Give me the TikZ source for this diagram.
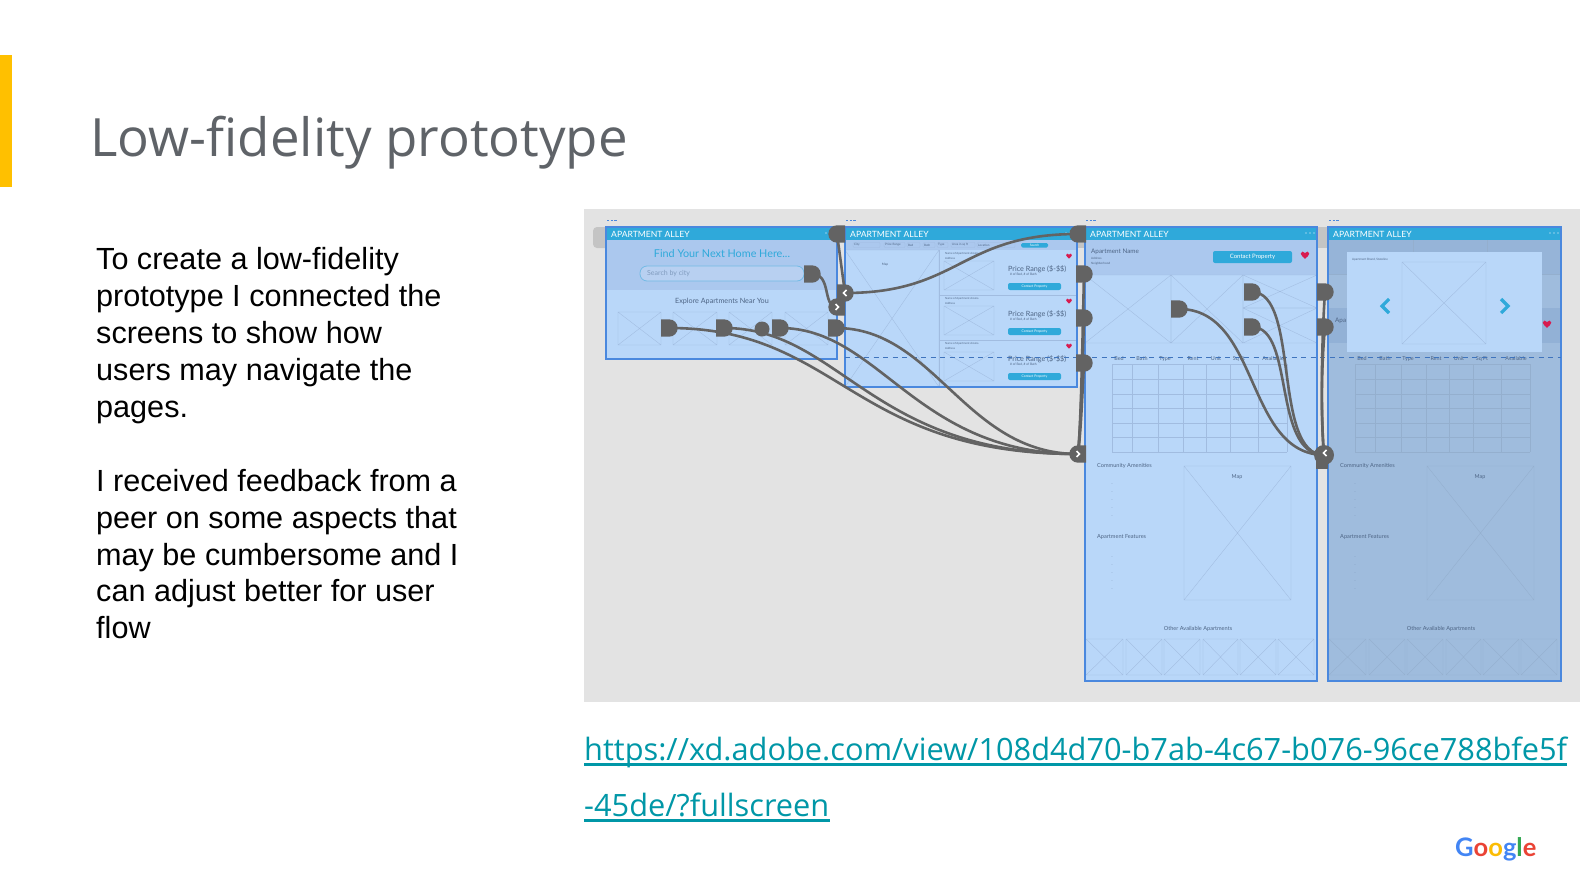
\documentclass[tikz,border=0pt]{standalone}
\usepackage{fontspec}
\usetikzlibrary{calc}
\setmainfont{Liberation Sans}
\newfontfamily\opensans{Open Sans}
\newfontfamily\lato{Lato}
\definecolor{accent}{HTML}{FFC000}
\definecolor{titlecol}{HTML}{5F6368}
\definecolor{linkcol}{HTML}{0097A7}
\definecolor{canvas}{HTML}{E3E3E3}
\definecolor{stub}{HTML}{C4C4C4}
\definecolor{scr}{HTML}{B9D7F9}
\definecolor{scrdark}{HTML}{9FBCDD}
\definecolor{band}{HTML}{ABC8EE}
\definecolor{banddark}{HTML}{92B1D6}
\definecolor{border}{HTML}{4A88DE}
\definecolor{head}{HTML}{2FA9DA}
\definecolor{wire}{HTML}{636363}
\definecolor{wftext}{HTML}{4E6585}
\definecolor{heartcol}{HTML}{D81B50}
\colorlet{wfline}{black!6!band}
\newcounter{lblc}
\newcommand\fs[1]{\fontsize{#1}{#1}\selectfont}
\newcommand\lbl[5]{\stepcounter{lblc}\node[inner sep=0pt,#3,font=\lato\fs{#4}] (t\thelblc) at (#1,#2) {#5};}
\newcommand\ph[4]{\draw[wf] (#1,#2) rectangle (#3,#4) (#1,#2) -- (#3,#4) (#1,#4) -- (#3,#2);}
\newcommand\heart[3]{\fill[heartcol,shift={(#1,#2)},scale=#3] (0,4) .. controls (-2,2) and (-4.5,0.5) .. (-4.5,-1.5) .. controls (-4.5,-4) and (-1,-4.5) .. (0,-2) .. controls (1,-4.5) and (4.5,-4) .. (4.5,-1.5) .. controls (4.5,0.5) and (2,2) .. (0,4) -- cycle;}
\newcommand\headbar[3]{%
  \fill[head] (#1,227) rectangle (#2,239.5);
  \lbl{#1+5}{237.3}{anchor=base west,text=white}{8.6}{APARTMENT ALLEY}
  \foreach \dx in {-11,-7,-3} \fill[white] (#2+\dx,233) circle (0.6);
  \draw[draw=border,line width=1.3,dash pattern=on 2.4 off 1.2] (#1+1,220.5) -- (#1+11,220.5);
  \draw[border,line width=1.3] (#1,227) rectangle (#2,#3);}
\newcommand\detailbody{%
  \foreach \vx in {1112,1132,1158,1183,1206,1230,1258,1287} \draw[wf] (\vx,364) -- (\vx,452);
  \foreach \hy in {364,379,394,408,423,437,452} \draw[wf] (1112,\hy) -- (1287,\hy);
  \foreach \hx/\hname in {1119/Bed,1142/Bath,1165/Type,1193/Rent,1216/Unit,1239/Sq Ft,1273/Available}
    {\lbl{\hx}{359}{text=wftext}{5.4}{\hname}}
  \lbl{1097}{466}{anchor=west,text=wftext}{5.6}{Community Amenities}
  \lbl{1097}{537}{anchor=west,text=wftext}{5.6}{Apartment Features}
  \foreach \bull in {485,493,501,509,517,558,566,574,582,590} {\lbl{1112}{\bull}{text=wftext!60!band}{4}{-}}
  \ph{1184}{466}{1291}{600}
  \lbl{1237}{477}{text=wftext}{5.4}{Map}
  \lbl{1198}{629}{text=wftext}{5.6}{Other Available Apartments}
  \foreach \ax/\bx in {1086/1123,1126/1162,1164/1200,1203/1238,1240/1276,1278/1314} {\ph{\ax}{639}{\bx}{675}}
}
\tikzset{
  wf/.style={draw=wfline,line width=0.35},
  wirepath/.style={draw=wire,line width=2.6,line cap=round},
  dtab/.pic={\fill[wire] (-8,-8.7) -- (0,-8.7) .. controls (4.8,-8.7) and (8.7,-4.8) .. (8.7,0) .. controls (8.7,4.8) and (4.8,8.7) .. (0,8.7) -- (-8,8.7) -- cycle;},
  ltab/.pic={\fill[wire] (8,-8.7) -- (0,-8.7) .. controls (-4.8,-8.7) and (-8.7,-4.8) .. (-8.7,0) .. controls (-8.7,4.8) and (-4.8,8.7) .. (0,8.7) -- (8,8.7) -- cycle;},
  chevr/.pic={\draw[white,line width=1.5] (-1.5,-3) -- (1.5,0) -- (-1.5,3);},
  chevl/.pic={\draw[white,line width=1.5] (1.5,-3) -- (-1.5,0) -- (1.5,3);},
}
\begin{document}
\begin{tikzpicture}[x=1pt,y=-1pt]
\useasboundingbox (0,0) rectangle (1580,889);
\fill[white] (0,0) rectangle (1580,889);
\fill[accent] (0,55) rectangle (12,187);
\node[inner sep=0pt,anchor=base west,text=titlecol,font=\opensans\fs{52.8}] (title) at (90,156) {Low-fidelity prototype};
\node[inner sep=0pt,anchor=north west,align=left,font=\fontsize{30.6}{37}\selectfont,text=black] (body1) at (96,247.5)
  {To create a low-fidelity\\prototype I connected the\\screens to show how\\users may navigate the\\pages.};
\node[inner sep=0pt,anchor=north west,align=left,font=\fontsize{30.6}{36.6}\selectfont,text=black] (body2) at (96,469.5)
  {I received feedback from a\\peer on some aspects that\\may be cumbersome and I\\can adjust better for user\\flow};
\fill[canvas] (584,209) rectangle (1580,702);
\fill[stub,rounded corners=4] (593,227) rectangle (610,248);
\fill[stub] (1316,227) rectangle (1328,248);
\fill[stub] (1077,243) rectangle (1085,248);
% screen 1
\fill[scr] (606,227) rectangle (837,359);
\fill[band] (606,239) rectangle (837,290);
\lbl{722}{254}{text=head}{10.8}{Find Your Next Home Here...}
\draw[draw=head!45!band,fill=band!85!white,line width=0.8,rounded corners=7] (640,266) rectangle (804,281);
\lbl{647}{273.5}{anchor=west,text=wftext!45!band}{7}{Search by city}
\lbl{722}{301}{text=wftext}{7.2}{Explore Apartments Near You}
\ph{618}{312}{661}{345}\ph{673}{312}{717}{345}\ph{729}{312}{772}{345}\ph{785}{312}{828}{345}
\headbar{606}{837}{359}
% screen 2
\fill[scr] (845,227) rectangle (1077,387);
\fill[band] (845,239) rectangle (1077,250);
\foreach \ax/\bx/\tx in {853/880/City,884/905/Price Range,907/920/Bed,923/935/Bath,937/948/Type,951/975/Area in sq ft,977/1015/Location}
  {\draw[wf,rounded corners=1] (\ax,242.5) rectangle (\bx,247.5); \lbl{\ax+1}{245}{anchor=west,text=wftext}{3}{\tx}}
\fill[head,rounded corners=1.5] (1021,243) rectangle (1048,247.5);
\lbl{1034.5}{245.2}{text=white}{3.2}{Search}
\ph{845}{250}{939}{387}
\lbl{885}{265}{text=wftext}{3.2}{Map}
\draw[wf] (939,250) -- (939,387) (939,295) -- (1077,295) (939,340) -- (1077,340);
\foreach \ty/\sh in {261/0,306/45,352/90}{
  \ph{944}{\ty}{994}{\ty+29}
  \lbl{945}{254+\sh}{anchor=west,text=wftext}{2.8}{Name of Apartment Aroma}
  \lbl{945}{258+\sh}{anchor=west,text=wftext}{2.8}{Address}
  \lbl{1008}{269+\sh}{anchor=west,text=wftext}{7.2}{Price Range (\$-\$\$)}
  \lbl{1010}{274.5+\sh}{anchor=west,text=wftext}{3.2}{\# of Bed, \# of Bath}
  \fill[head,rounded corners=2] (1008,283+\sh) rectangle (1061,290+\sh);
  \lbl{1034.5}{286.5+\sh}{text=white}{3.4}{Contact Property}
  \heart{1069}{256+\sh}{0.65}
}
\headbar{845}{1077}{387}
% screen 3
\fill[scr] (1085,227) rectangle (1317,681);
\fill[band] (1085,239) rectangle (1317,275);
\lbl{1091}{252}{anchor=west,text=wftext}{6.3}{Apartment Name}
\lbl{1091}{258.7}{anchor=west,text=wftext}{3}{Address}
\lbl{1091}{263.2}{anchor=west,text=wftext}{3}{Neighborhood}
\fill[head,rounded corners=2] (1213,251) rectangle (1292,263);
\lbl{1252.5}{257}{text=white}{6}{Contact Property}
\heart{1305}{255}{0.95}
\ph{1085}{275}{1171}{343}\ph{1171}{275}{1243}{343}\ph{1243}{275}{1317}{308}\ph{1243}{308}{1317}{343}
\detailbody
\headbar{1085}{1317}{681}
% screen 4
\fill[scrdark] (1328,227) rectangle (1561,681);
\begin{scope}
\colorlet{wfline}{black!7!scrdark}
\fill[banddark!70!scrdark] (1328,239) rectangle (1561,274);
\fill[banddark] (1328,308) rectangle (1561,343);
\draw[wf] (1413,239) -- (1413,274) (1487,239) -- (1487,274) (1328,274) -- (1561,274);
\lbl{1335}{321}{anchor=west,text=wftext}{6.3}{Apa}
\heart{1547}{324}{0.95}
\begin{scope}[shift={(243,0)}]
\detailbody
\end{scope}
\end{scope}
\fill[scr] (1347,252) rectangle (1542,352);
\lbl{1352}{259.5}{anchor=west,text=wftext}{3}{Apartment Brand, Stateline}
\ph{1402}{262}{1486}{344}
\draw[head,line width=3.2] (1389,299) -- (1382,306) -- (1389,313);
\draw[head,line width=3.2] (1501,299) -- (1508,306) -- (1501,313);
\headbar{1328}{1561}{681}
% flow overlay
\draw[draw=border!85!black,line width=0.9,dash pattern=on 5 off 4.5] (845,357) -- (1561,357);
\coordinate (d1) at (669,328);
\coordinate (d2) at (724,328);
\coordinate (dot) at (762,329);
\coordinate (d3) at (780,328);
\coordinate (d4) at (836,328);
\coordinate (search) at (812,274);
\coordinate (top1) at (837,234);
\coordinate (back1) at (845,293);
\coordinate (next1) at (837,307);
\coordinate (top2) at (1078,234);
\coordinate (e1) at (1084,274);
\coordinate (e2) at (1084,318);
\coordinate (e3) at (1084,363);
\coordinate (next2) at (1078,454);
\coordinate (m1) at (1179,309);
\coordinate (m2) at (1252,292);
\coordinate (m3) at (1252,327);
\coordinate (f1) at (1325,292);
\coordinate (f2) at (1325,327);
\coordinate (back2) at (1324,455);
\draw[wirepath] (d1) .. controls (840,328) and (850,454) .. (next2);
\draw[wirepath] (d2) .. controls (840,328) and (870,454) .. (next2);
\draw[wirepath] (d3) .. controls (880,328) and (915,454) .. (next2);
\draw[wirepath] (d4) .. controls (935,328) and (965,454) .. (next2);
\draw[wirepath] (search) .. controls (832,274) and (822,307) .. (next1);
\draw[wirepath] (top1) -- (back1);
\draw[wirepath] (back1) .. controls (960,293) and (960,234) .. (top2);
\draw[wirepath] (e1) .. controls (1082,360) and (1081,420) .. (next2);
\draw[wirepath] (e2) .. controls (1082,380) and (1081,420) .. (next2);
\draw[wirepath] (e3) .. controls (1082,400) and (1081,430) .. (next2);
\draw[wirepath] (m1) .. controls (1260,309) and (1245,454) .. (back2);
\draw[wirepath] (m2) .. controls (1300,292) and (1272,454) .. (back2);
\draw[wirepath] (m3) .. controls (1295,327) and (1272,454) .. (back2);
\draw[wirepath] (f1) .. controls (1321,350) and (1321,420) .. (back2);
\draw[wirepath] (f2) .. controls (1321,370) and (1321,420) .. (back2);
\foreach \cc in {d1,d2,d3,d4,search,e1,e2,e3,m1,m2,m3,back1,f1,f2} \pic at (\cc) {dtab};
\foreach \cc in {top1,next1,top2,next2} \pic at (\cc) {ltab};
\fill[wire] (dot) circle (7.5);
\fill[wire] (back2) circle (10);
\fill[wire] (1316,455) rectangle (1328,469);
\pic at (back1) {chevl};
\pic at (next1) {chevr};
\pic at (next2) {chevr};
\pic at ($(back2)+(1,-2)$) {chevl};
% link
\node[inner sep=0pt,anchor=base west,text=linkcol,font=\opensans\fs{30.75}] (link1) at (584,760) {https://xd.adobe.com/view/108d4d70-b7ab-4c67-b076-96ce788bfe5f};
\node[inner sep=0pt,anchor=base west,text=linkcol,font=\opensans\fs{30.75}] (link2) at (584,816) {-45de/?fullscreen};
\fill[linkcol] ($(link1.base west)+(0,3)$) rectangle ($(link1.base east)+(0,5.6)$);
\fill[linkcol] ($(link2.base west)+(0,3)$) rectangle ($(link2.base east)+(0,5.6)$);
% logo
\node[inner sep=0pt,anchor=base west,font=\lato\bfseries\fs{25.5}] (logo) at (1455,856) {\textcolor[HTML]{4285F4}{G}\textcolor[HTML]{EA4335}{o}\textcolor[HTML]{FBBC05}{o}\textcolor[HTML]{4285F4}{g}\textcolor[HTML]{34A853}{l}\textcolor[HTML]{EA4335}{e}};
\end{tikzpicture}
\end{document}
